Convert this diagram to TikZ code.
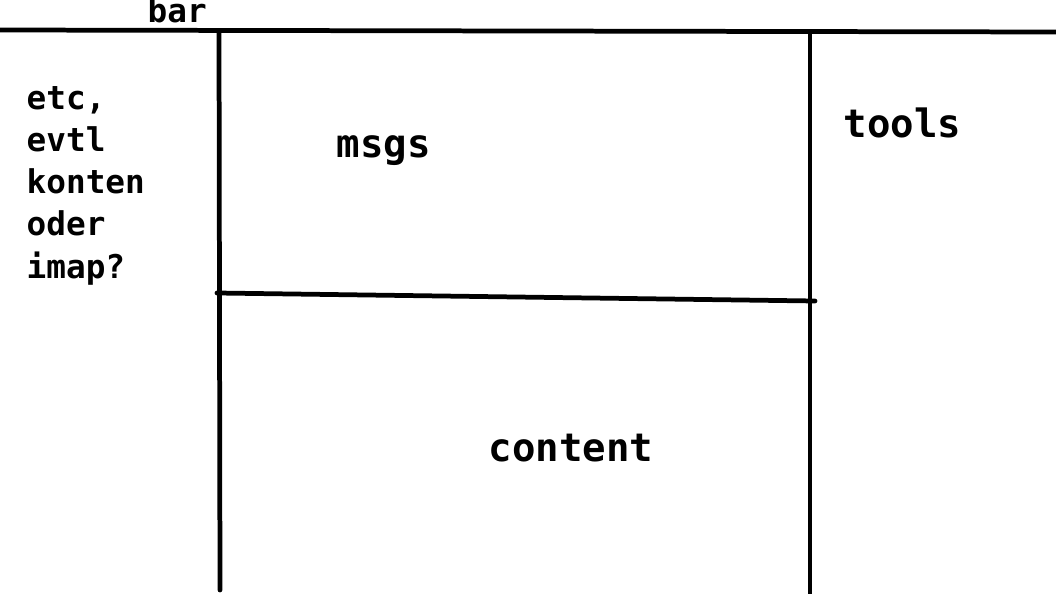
\documentclass[tikz,border=0pt]{standalone}
\usepackage{fontspec}
\setmonofont{DejaVu Sans Mono}
\begin{document}
\begin{tikzpicture}[x=0.01cm,y=-0.01cm,
		stroke/.style={line width=1.35pt,line cap=round},
		big/.style={anchor=base west,inner sep=0pt,font=\ttfamily\bfseries\fontsize{11.1}{13}\selectfont},
		small/.style={anchor=base west,inner sep=0pt,align=left,font=\ttfamily\bfseries\fontsize{9.3}{11.95}\selectfont}]
	\useasboundingbox (0,0) rectangle (1056,594);
	% frame lines
	\coordinate (tl) at (0,30);
	\coordinate (tr) at (1056,32);
	\coordinate (lt) at (219,31);
	\coordinate (lb) at (220,590);
	\coordinate (rt) at (810,32);
	\coordinate (rb) at (810,594);
	\coordinate (ml) at (217,293);
	\coordinate (mr) at (815,301);
	\draw[stroke] (tl) -- (tr);
	\draw[stroke] (lt) -- (lb);
	\draw[stroke] (rt) -- (rb);
	\draw[stroke] (ml) -- (mr);
	% labels
	\node[small] (bar) at (147,22) {bar};
	\node[small] (side) at (26,278) {etc,\\evtl\\konten\\oder\\imap?};
	\node[big] (msgs) at (336,157) {msgs};
	\node[big] (tools) at (843,137) {tools};
	\node[big] (content) at (488,462) {content};
\end{tikzpicture}
\end{document}
